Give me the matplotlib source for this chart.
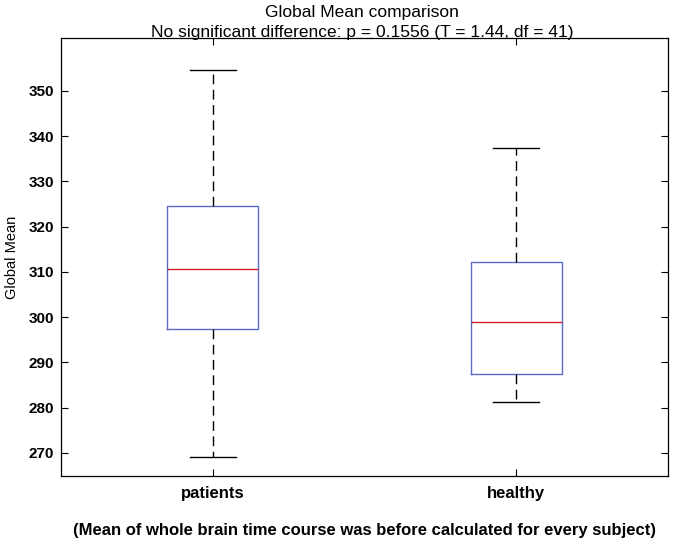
import matplotlib
matplotlib.use("Agg")
import matplotlib.pyplot as plt

# Datos
grupos = ["patients", "healthy"]
bigote_inf = [269.1, 281.3]
q1 = [297.4, 287.5]
mediana = [310.7, 299.0]
q3 = [324.6, 312.2]
bigote_sup = [354.7, 337.4]
yticks = [270, 280, 290, 300, 310, 320, 330, 340, 350]

plt.rcParams['font.family'] = ['Liberation Sans', 'DejaVu Sans']

stats = []
for i in range(len(grupos)):
    stats.append({"label": grupos[i], "whislo": bigote_inf[i], "q1": q1[i],
                  "med": mediana[i], "q3": q3[i], "whishi": bigote_sup[i],
                  "fliers": []})

fig = plt.figure(figsize=(6.75, 5.44), dpi=100)
ax = fig.add_axes([61/675, 1-476/544, 607/675, 438/544])

ax.bxp(stats, positions=[1, 2], widths=0.3, showfliers=False,
       boxprops=dict(color="#5a6cc2", linewidth=1.0),
       medianprops=dict(color="#cc2233", linewidth=1.0),
       whiskerprops=dict(color="black", linestyle=(0, (7, 4)), linewidth=1.0),
       capprops=dict(color="black", linewidth=1.0),
       capwidths=0.15)

ax.set_xlim(0.5, 2.5)
ax.set_ylim(264.9, 361.7)
ax.set_yticks(yticks)
ax.set_yticklabels([str(v) for v in yticks], fontsize=11, fontweight="bold")
ax.set_xticks([1, 2])
ax.set_xticklabels(grupos, fontsize=12, fontweight="bold")
ax.tick_params(direction="in", top=True, right=True, length=5, width=0.8)
ax.tick_params(axis="x", pad=7)
ax.tick_params(axis="y", pad=5)
for s in ax.spines.values():
    s.set_linewidth(0.9)

ax.set_ylabel("Global Mean", fontsize=10.5)
ax.yaxis.set_label_coords(-0.070, 0.5)

# Titulo en dos lineas
fig.text(362/675, 1-13/544, "Global Mean comparison",
         ha="center", va="center", fontsize=12.5)
fig.text(362/675, 1-32/544, "No significant difference: p = 0.1556 (T = 1.44, df = 41)",
         ha="center", va="center", fontsize=12.5)
fig.text(0.540, 1-530/544, "(Mean of whole brain time course was before calculated for every subject)",
         ha="center", va="center", fontsize=12, fontweight="bold")

fig.savefig("out.png", dpi=100)
